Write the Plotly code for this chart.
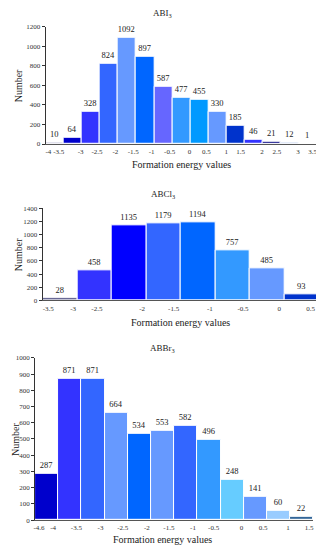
import plotly.graph_objects as go

# ---------------- data ----------------
abi_values = [10, 64, 328, 824, 1092, 897, 587, 477, 455, 330, 185, 46, 21, 12, 1]
abi_ticks = ["-4", "-3.5", "-3", "-2.5", "-2", "-1.5", "-1", "-0.5", "0", "0.5", "1", "1.5", "2", "2.5", "3", "3.5"]

abcl_values = [28, 458, 1135, 1179, 1194, 757, 485, 93]
abcl_ticks = ["-3.5", "-3", "-2.5", "-2", "-1.5", "-1", "-0.5", "0", "0.5"]

abbr_values = [287, 871, 871, 664, 534, 553, 582, 496, 248, 141, 60, 22]
abbr_ticks = ["-4.6", "-4", "-3.5", "-3", "-2.5", "-2", "-1.5", "-1", "-0.5", "0", "0.5", "1", "1.5"]

# ---------------- styles / layout ----------------
abi_colors = ["#1f1f7a", "#0000cc", "#3333ff", "#3366ff", "#6699ff", "#0066ff", "#6666ff",
              "#3399ff", "#0099ff", "#6699ff", "#0033cc", "#3333ff", "#000080", "#3366cc", "#99ccff"]
abcl_colors = ["#1a1a5e", "#3333ff", "#0000ff", "#3366ff", "#0066ff", "#3399ff", "#6699ff", "#0033cc"]
abbr_colors = ["#0000cc", "#3333ff", "#3366ff", "#6699ff", "#0066ff", "#6699ff", "#3366ff",
               "#3399ff", "#66ccff", "#6699ff", "#99ccff", "#336699"]

# tick label positions in bar units (layout only)
abi_tick_pos = [0.15, 0.72, 1.93, 2.84, 3.85, 4.84, 5.86, 6.85, 7.95, 8.88, 9.98, 10.77, 11.96, 12.78, 13.94, 14.75]
abcl_tick_pos = [0.16, 0.88, 1.57, 2.88, 3.79, 4.84, 5.8, 6.85, 7.76]
abbr_tick_pos = [0.17, 0.78, 1.78, 2.82, 3.78, 4.82, 5.77, 6.81, 7.7, 8.9, 9.83, 10.9, 11.82]

# page body has an 8px default margin: figure drawn at (8, 8) so it ends at 324 x 550
OFF = 8
W, H = 324 - OFF, 550 - OFF
FONT = "Liberation Serif"

def px_x(p):
    return (p - OFF) / W

def px_y(p):
    return 1 - (p - OFF) / H

panels = [
    dict(vals=abi_values, ticks=abi_ticks, pos=abi_tick_pos, colors=abi_colors,
         title="ABI<sub>3</sub>", x0=44, x1=318, y0=23, y1=142, ymax=1200, dtick=200,
         title_y=10, xt_x=181, xt_y=163, yt_x=16),
    dict(vals=abcl_values, ticks=abcl_ticks, pos=abcl_tick_pos, colors=abcl_colors,
         title="ABCl<sub>3</sub>", x0=41, x1=320, y0=207.3, y1=300.7, ymax=1400, dtick=200,
         title_y=193, xt_x=180, xt_y=323, yt_x=16),
    dict(vals=abbr_values, ticks=abbr_ticks, pos=abbr_tick_pos, colors=abbr_colors,
         title="ABBr<sub>3</sub>", x0=33.3, x1=314.3, y0=359, y1=523.7, ymax=1000, dtick=100,
         title_y=350, xt_x=162, xt_y=543, yt_x=14),
]

fig = go.Figure()
annotations = []
layout = {}
for i, p in enumerate(panels, start=1):
    n = len(p["vals"])
    xs = [k + 0.5 for k in range(n)]
    xa = "x" if i == 1 else f"x{i}"
    ya = "y" if i == 1 else f"y{i}"
    fig.add_trace(go.Bar(
        x=xs, y=p["vals"], width=1, xaxis=xa, yaxis=ya,
        marker=dict(color=p["colors"], line=dict(color="white", width=1)),
        text=[str(v) for v in p["vals"]], textposition="outside",
        textfont=dict(family=FONT, size=8.5, color="#222"),
        cliponaxis=False, showlegend=False, hoverinfo="skip",
    ))
    xkey = "xaxis" if i == 1 else f"xaxis{i}"
    ykey = "yaxis" if i == 1 else f"yaxis{i}"
    layout[xkey] = dict(
        domain=[px_x(p["x0"]), px_x(p["x1"])], range=[0, n], anchor=ya,
        tickmode="array", tickvals=p["pos"], ticktext=p["ticks"], tickangle=0,
        ticks="", showgrid=False, zeroline=False, ticklabelstandoff=1,
        ticklabeloverflow="allow",
        showline=True, linecolor="#555", linewidth=1,
        tickfont=dict(family=FONT, size=7, color="#333"),
    )
    layout[ykey] = dict(
        domain=[px_y(p["y1"]), px_y(p["y0"])], range=[0, p["ymax"]], anchor=xa,
        dtick=p["dtick"], ticks="outside", ticklen=3, tickcolor="#333",
        showgrid=False, zeroline=False, showline=True, linecolor="#333", linewidth=1,
        tickfont=dict(family=FONT, size=7, color="#333"),
    )
    annotations.append(dict(text=p["title"], x=px_x(162), y=px_y(p["title_y"]), xref="paper", yref="paper",
                            showarrow=False, font=dict(family=FONT, size=9, color="#222"),
                            xanchor="center", yanchor="middle"))
    annotations.append(dict(text="Formation energy values", x=px_x(p["xt_x"]), y=px_y(p["xt_y"]),
                            xref="paper", yref="paper", showarrow=False,
                            font=dict(family=FONT, size=10, color="#222"),
                            xanchor="center", yanchor="middle"))
    annotations.append(dict(text="Number", x=px_x(p["yt_x"]), y=px_y((p["y0"] + p["y1"]) / 2),
                            xref="paper", yref="paper", showarrow=False, textangle=-90,
                            font=dict(family=FONT, size=10, color="#222"),
                            xanchor="center", yanchor="middle"))

fig.update_layout(
    width=W, height=H, margin=dict(l=0, r=0, t=0, b=0),
    paper_bgcolor="white", plot_bgcolor="white",
    bargap=0, annotations=annotations, **layout,
)

fig.write_html("out.html")
